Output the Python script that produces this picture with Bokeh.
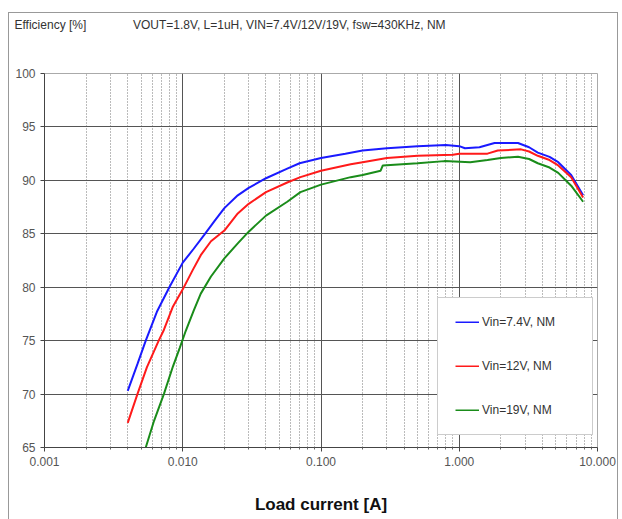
from bokeh.plotting import figure
from bokeh.models import (FixedTicker, PrintfTickFormatter, Legend, LegendItem, Range1d, Title)
from bokeh.embed import file_html
from bokeh.resources import INLINE

# ---- data ----
x_blue = [0.004, 0.0047, 0.0054, 0.0065, 0.008, 0.01, 0.012, 0.0143, 0.017, 0.02, 0.025, 0.03,
          0.04, 0.057, 0.07, 0.1, 0.15, 0.2, 0.3, 0.5, 0.8, 1.0, 1.1, 1.4, 1.8, 2.66, 3.2, 3.7,
          4.5, 5.2, 6.45, 7.87]
y_blue = [70.3, 72.8, 75.0, 77.7, 80.0, 82.3, 83.6, 84.9, 86.2, 87.4, 88.6, 89.3,
          90.2, 91.1, 91.6, 92.1, 92.5, 92.8, 93.0, 93.2, 93.3, 93.2, 93.0, 93.1, 93.5, 93.5, 93.1, 92.6,
          92.2, 91.7, 90.5, 88.6]

x_red = [0.004, 0.0047, 0.0055, 0.0067, 0.0073, 0.0085, 0.01, 0.0118, 0.0135, 0.016, 0.02, 0.025,
         0.03, 0.04, 0.057, 0.071, 0.1, 0.164, 0.2, 0.3, 0.5, 0.9, 1.0, 1.6, 1.9, 2.8, 3.2, 3.7,
         4.5, 5.2, 6.45, 7.87]
y_red = [67.3, 70.0, 72.5, 75.0, 76.0, 78.2, 79.8, 81.6, 83.0, 84.3, 85.3, 86.9,
         87.8, 88.9, 89.8, 90.3, 90.9, 91.5, 91.7, 92.1, 92.3, 92.4, 92.5, 92.5, 92.8, 92.9, 92.7, 92.3,
         91.9, 91.4, 90.3, 88.4]

x_green = [0.005, 0.0054, 0.0062, 0.0073, 0.0085, 0.0095, 0.0105, 0.012, 0.0135, 0.016, 0.02, 0.025,
           0.03, 0.04, 0.057, 0.071, 0.1, 0.164, 0.2, 0.27, 0.28, 0.5, 0.78, 1.2, 1.6, 2.0, 2.66, 3.2,
           3.7, 4.5, 5.2, 6.45, 7.87]
y_green = [63.5, 65.0, 67.5, 70.0, 72.6, 74.3, 75.9, 77.8, 79.4, 81.0, 82.7, 84.1,
           85.2, 86.7, 88.0, 88.9, 89.6, 90.3, 90.5, 90.9, 91.4, 91.6, 91.8, 91.7, 91.9, 92.1, 92.2, 92.0,
           91.6, 91.2, 90.7, 89.5, 88.0]

series_names = ["Vin=7.4V, NM", "Vin=12V, NM", "Vin=19V, NM"]
x_major = [0.001, 0.01, 0.1, 1.0, 10.0]
x_minor = [m * d for d in [0.001, 0.01, 0.1, 1.0] for m in range(2, 10)]
y_ticks = [65, 70, 75, 80, 85, 90, 95, 100]
title_left = "Efficiency [%]"
title_right = "VOUT=1.8V, L=1uH, VIN=7.4V/12V/19V, fsw=430KHz, NM"
x_title = "Load current [A]"

FONT = "Liberation Sans"

p = figure(width=608, height=506, x_axis_type="log",
           x_range=Range1d(0.001, 10), y_range=Range1d(65, 100),
           output_backend="svg", toolbar_location=None,
           min_border_left=35, min_border_right=20, min_border_top=60, min_border_bottom=72)
p.styles = {"margin-left": "9px", "margin-top": "13px", "outline": "1px solid #999999"}
p.background_fill_color = "white"
p.border_fill_color = "white"
p.outline_line_color = "#aaaaaa"
p.title.text = ""

# spacer (nearest the frame) then header line
p.add_layout(Title(text="\u00a0", text_font=FONT, text_font_size="12px", standoff=26), "above")
p.add_layout(Title(text=title_left + "\u00a0" * 14 + title_right, align="left", offset=-30,
                   standoff=0, text_font=FONT, text_font_size="12px",
                   text_font_style="normal", text_color="#333333"), "above")

# axes
p.xaxis.ticker = FixedTicker(ticks=x_major, minor_ticks=x_minor)
p.xaxis.formatter = PrintfTickFormatter(format="%.3f")
p.yaxis.ticker = FixedTicker(ticks=y_ticks)
for ax in (p.xaxis[0], p.yaxis[0]):
    ax.axis_line_color = "#444444"
    ax.major_tick_line_color = "#444444"
    ax.minor_tick_line_color = "#666666"
    ax.major_tick_in = 0
    ax.major_tick_out = 4
    ax.minor_tick_in = 0
    ax.minor_tick_out = 2
    ax.major_label_text_font = FONT
    ax.major_label_text_font_size = "12px"
    ax.major_label_text_color = "#555555"
p.yaxis.minor_tick_line_color = None
p.yaxis.major_label_standoff = 5
p.xaxis.major_label_standoff = 5
p.xaxis.axis_label = x_title
p.xaxis.axis_label_text_font = FONT
p.xaxis.axis_label_text_font_size = "17px"
p.xaxis.axis_label_text_font_style = "bold"
p.xaxis.axis_label_text_color = "#111111"
p.xaxis.axis_label_standoff = 26

# grids
p.xgrid.grid_line_color = "#555555"
p.xgrid.grid_line_width = 1
p.xgrid.minor_grid_line_color = "#777777"
p.xgrid.minor_grid_line_dash = "1 2"
p.ygrid.grid_line_color = "#555555"
p.ygrid.grid_line_width = 1.2

# curves
r1 = p.line(x_blue, y_blue, line_color="#1a1aff", line_width=2)
r2 = p.line(x_red, y_red, line_color="#ff1a1a", line_width=2)
r3 = p.line(x_green, y_green, line_color="#1a8c1a", line_width=2)

legend = Legend(items=[LegendItem(label=series_names[0], renderers=[r1]),
                       LegendItem(label=series_names[1], renderers=[r2]),
                       LegendItem(label=series_names[2], renderers=[r3])],
                location=(393, 12), padding=17, spacing=30,
                glyph_width=24, glyph_height=2, label_height=2, label_width=93, label_standoff=3,
                label_text_font=FONT, label_text_font_size="12px", label_text_color="#333333",
                border_line_color="#999999", background_fill_color="white",
                background_fill_alpha=1.0, margin=0)
p.add_layout(legend, "center")

open("out.html", "w").write(file_html(p, INLINE))
